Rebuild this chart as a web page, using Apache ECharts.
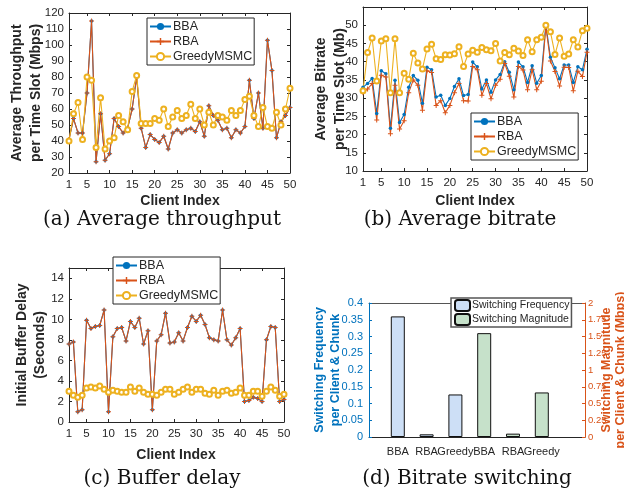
<!DOCTYPE html>
<html><head><meta charset="utf-8">
<script src="https://cdn.jsdelivr.net/npm/echarts@6/dist/echarts.min.js"></script>
<style>html,body{margin:0;padding:0;background:#fff}#c{width:624px;height:492px}</style>
</head><body><div id="c"></div>
<script>
// ---- data ----
var clientTicks = [1,5,10,15,20,25,30,35,40,45,50];
var aBBA = [41,54,45,45,70,115,27,57,28,32,54,49,45,48,60,80,48,36,44,41,39,43,35,45,47,45,47,48,46,52,43,62,56,53,47,48,42,47,45,49,78,54,70,48,103,84,42,52,56,61];
var aRBA = [41,54,45,45,70,115,27,57,28,32,54,49,45,48,60,80,48,36,44,41,39,43,35,45,47,45,47,48,46,52,43,62,56,53,47,48,42,47,45,49,78,54,70,48,103,84,42,52,56,61];
var aGreedy = [40,57,64,41,80,78,36,67,35,40,42,56,52,47,71,81,51,51,51,54,53,60,49,55,59,54,56,63,54,60,50,58,50,56,55,53,59,56,59,66,68,56,49,61,49,48,58,50,60,73];
var bBBA = [33,34,35.4,25.8,37.5,36.7,21.7,34.9,23.3,25.5,33,36.2,34.9,28.6,38.5,37.8,30.3,30.8,28,29.9,33.2,35.3,30.7,31,39.9,38.6,32.5,35,31.6,35,36.5,40,37.1,32.3,39.9,38.6,34.3,38.9,34.1,36.2,50.2,41.2,38.3,35.3,39.1,39.1,34.3,38.6,37.8,43.4];
var bRBA = [31.5,32.5,34,24,36.3,35.8,20.2,33.5,21.5,23.8,31.5,35,33.5,26.7,37.5,37,28,29.3,26,28,31.5,34,29.3,29.2,38.7,37.8,30.8,34,29.8,33.5,35.2,39.5,36,30.3,38.7,37.7,32.3,37.8,32.3,34.6,49.5,40.2,37.3,33.3,38.5,38.4,32,37.4,35.9,42.6];
var bGreedy = [32,42.5,46.5,34.7,45.7,46.3,31.5,46.3,31.5,36.8,35.2,42.3,39.6,38,43.5,44.8,40.8,40.6,41.9,41.8,42.2,44.1,38.7,42.1,43.1,42.6,43.9,43.3,43,45,40.2,42.5,41.9,43.7,42.9,41.7,46,42.7,46,46.7,50,48.2,42,46.5,41.5,42.1,46,44,48.5,49.2];
var cBBA = [7.6,7.8,1.0,1.2,9.9,9.1,9.3,9.4,10.9,1.0,8.3,9.1,9.2,7.9,9.8,9.2,10.1,7.6,8.9,1.2,7.9,8.5,10.6,7.7,7.8,8.7,7.9,9.2,10.3,9.8,10.4,9.5,8.2,8.0,7.9,10.9,8.0,7.5,8.2,9.1,2.0,2.1,2.4,2.3,2.0,8.0,9.3,9.2,2.0,2.2];
var cRBA = [7.6,7.8,1.0,1.2,9.9,9.1,9.3,9.4,10.9,1.0,8.3,9.1,9.2,7.9,9.8,9.2,10.1,7.6,8.9,1.2,7.9,8.5,10.6,7.7,7.8,8.7,7.9,9.2,10.3,9.8,10.4,9.5,8.2,8.0,7.9,10.9,8.0,7.5,8.2,9.1,2.0,2.1,2.4,2.3,2.0,8.0,9.3,9.2,2.0,2.2];
var cGreedy = [3.0,2.6,2.4,2.6,3.3,3.4,3.3,3.5,3.2,2.9,3.1,3.0,2.9,2.9,3.4,3.0,3.3,2.9,2.7,2.7,2.6,2.9,3.2,3.2,2.7,2.9,3.2,3.4,2.9,3.2,3.2,2.8,2.7,3.1,2.6,3.0,3.1,2.8,2.9,3.3,2.6,2.6,3.0,3.0,2.5,3.0,3.4,3.1,2.5,2.7];
var aTicks = [20,30,40,50,60,70,80,90,100,110,120];
var bTicks = [10,15,20,25,30,35,40,45,50];
var cTicks = [0,2,4,6,8,10,12,14];
var dCategories = ['BBA','RBA','Greedy','BBA','RBA','Greedy'];
var dFrequency = [0.36, 0.008, 0.127];
var dMagnitude = [1.55, 0.05, 0.665];
var dFreqTicks = [0,0.05,0.1,0.15,0.2,0.25,0.3,0.35,0.4];
var dMagTicks = [0,0.25,0.5,0.75,1,1.25,1.5,1.75,2];

// ---- styling ----
var SANS = 'Liberation Sans';
var DARK = '#262626';
var C_BBA = '#0072BD', C_RBA = '#D95319', C_GR = '#EDB120';
var PLUS = 'path://M4,0h2v4h4v2h-4v4h-2v-4h-4v-2h4z';

var grids = [
  {left:69, top:13, width:221, height:160},
  {left:363, top:7, width:224, height:164},
  {left:69, top:268, width:215, height:154},
  {left:369, top:303, width:216, height:134}
];
var yRanges = [[20,120,aTicks],[10,55,bTicks],[0,15,cTicks]];
var xAxes = [], yAxes = [], series = [];
function pts(arr){ return arr.map(function(v,i){ return [i+1, v]; }); }

[0,1,2].forEach(function(p){
  xAxes.push({type:'value', gridIndex:p, position:'bottom', min:1, max:50,
    axisLine:{onZero:false, lineStyle:{color:DARK}},
    axisTick:{inside:true, length:3, customValues:clientTicks, lineStyle:{color:DARK}},
    axisLabel:{customValues:clientTicks, color:DARK, fontFamily:SANS, fontSize:11.5, margin:6},
    splitLine:{show:false}});
  xAxes.push({type:'value', gridIndex:p, position:'top', min:1, max:50,
    axisLine:{onZero:false, lineStyle:{color:DARK}},
    axisTick:{inside:true, length:3, customValues:clientTicks, lineStyle:{color:DARK}},
    axisLabel:{show:false}, splitLine:{show:false}});
  var r = yRanges[p];
  yAxes.push({type:'value', gridIndex:p, position:'left', min:r[0], max:r[1],
    axisLine:{show:true, onZero:false, lineStyle:{color:DARK}},
    axisTick:{show:true, inside:true, length:3, customValues:r[2], lineStyle:{color:DARK}},
    axisLabel:{customValues:r[2], color:DARK, fontFamily:SANS, fontSize:11.5, margin:5},
    splitLine:{show:false}});
  yAxes.push({type:'value', gridIndex:p, position:'right', min:r[0], max:r[1],
    axisLine:{show:true, onZero:false, lineStyle:{color:DARK}},
    axisTick:{show:true, inside:true, length:3, customValues:r[2], lineStyle:{color:DARK}},
    axisLabel:{show:false}, splitLine:{show:false}});
});
// panel d axes (labels split over two bottom axes so adjacent names never get dropped)
function dLabel(v){ return dCategories[Math.round(v)-1] || ''; }
xAxes.push({type:'value', gridIndex:3, position:'bottom', min:0, max:7.5,
  axisLine:{onZero:false, lineStyle:{color:DARK}},
  axisTick:{show:false},
  axisLabel:{customValues:[1,3,5], color:DARK, fontFamily:SANS, fontSize:11, margin:9, formatter:dLabel},
  splitLine:{show:false}});
xAxes.push({type:'value', gridIndex:3, position:'top', min:0, max:7.5,
  axisLine:{onZero:false, lineStyle:{color:'#555'}}, axisTick:{show:false},
  axisLabel:{show:false}, splitLine:{show:false}});
xAxes.push({type:'value', gridIndex:3, position:'bottom', offset:0, min:0, max:7.5,
  axisLine:{show:false, onZero:false}, axisTick:{show:false},
  axisLabel:{customValues:[2,4,6], color:DARK, fontFamily:SANS, fontSize:11, margin:9, formatter:dLabel},
  splitLine:{show:false}});
yAxes.push({type:'value', gridIndex:3, position:'left', min:0, max:0.4,
  axisLine:{show:true, onZero:false, lineStyle:{color:C_BBA}},
  axisTick:{show:true, inside:true, length:3, customValues:dFreqTicks, lineStyle:{color:C_BBA}},
  axisLabel:{customValues:dFreqTicks, color:C_BBA, fontFamily:SANS, fontSize:11, margin:6},
  splitLine:{show:false}});
yAxes.push({type:'value', gridIndex:3, position:'right', min:0, max:2,
  axisLine:{show:true, onZero:false, lineStyle:{color:C_RBA}},
  axisTick:{show:true, inside:true, length:3, customValues:dMagTicks, lineStyle:{color:C_RBA}},
  axisLabel:{customValues:dMagTicks, color:C_RBA, fontFamily:SANS, fontSize:9.5, margin:3},
  splitLine:{show:false}});

var panelData = [[aBBA,aRBA,aGreedy],[bBBA,bRBA,bGreedy],[cBBA,cRBA,cGreedy]];
panelData.forEach(function(d,p){
  series.push({name:'BBA', type:'line', xAxisIndex:2*p, yAxisIndex:2*p, data:pts(d[0]),
    color:C_BBA, lineStyle:{width:1.1, color:C_BBA}, symbol:'circle', symbolSize:3.5,
    showAllSymbol:true, itemStyle:{color:C_BBA}, silent:true});
  series.push({name:'RBA', type:'line', xAxisIndex:2*p, yAxisIndex:2*p, data:pts(d[1]),
    color:C_RBA, lineStyle:{width:1.1, color:C_RBA}, symbol:PLUS, symbolSize:5,
    showAllSymbol:true, itemStyle:{color:C_RBA}, silent:true});
  series.push({name:'GreedyMSMC', type:'line', xAxisIndex:2*p, yAxisIndex:2*p, data:pts(d[2]),
    color:C_GR, lineStyle:{width:1.1, color:C_GR}, symbol:'emptyCircle', symbolSize:5,
    showAllSymbol:true, itemStyle:{color:C_GR, borderColor:C_GR, borderWidth:1}, silent:true});
});
series.push({name:'Switching Frequency', type:'bar', xAxisIndex:6, yAxisIndex:6,
  data:dFrequency.map(function(v,i){ return [i+1, v]; }), barWidth:14, barGap:'-100%',
  itemStyle:{color:'#cddff6', borderColor:'#111', borderWidth:1}, silent:true});
series.push({name:'Switching Magnitude', type:'bar', xAxisIndex:6, yAxisIndex:7,
  data:dMagnitude.map(function(v,i){ return [i+4, v]; }), barWidth:14, barGap:'-100%',
  itemStyle:{color:'#c6e1ca', borderColor:'#111', borderWidth:1}, silent:true});

function lineLegend(left, top){
  return {show:true, orient:'vertical', left:left, top:top, data:['BBA','RBA','GreedyMSMC'],
    backgroundColor:'#fff', borderColor:DARK, borderWidth:1, padding:[2,2,2,2], itemGap:2,
    itemWidth:21, itemHeight:9, selectedMode:false,
    textStyle:{fontFamily:SANS, fontSize:12.5, color:DARK, padding:[0,0,0,-3]}};
}
var legends = [lineLegend(147,18), lineLegend(471,113), lineLegend(113,257),
  {show:true, orient:'vertical', left:451, top:298, data:['Switching Frequency','Switching Magnitude'],
   backgroundColor:'#fff', borderColor:'#555', borderWidth:1.5, padding:[1,2,1,3], itemGap:1,
   itemWidth:15, itemHeight:11, selectedMode:false,
   textStyle:{fontFamily:SANS, fontSize:10.5, color:DARK, padding:[0,0,0,-3]}}];

function txt(x, y, s, opt){
  opt = opt || {};
  return {type:'text', x:x, y:y, rotation:opt.rot || 0, silent:true, z:100,
    style:{text:s, fontFamily:opt.family || SANS, fontSize:opt.size || 14,
      fontWeight:opt.weight || 'bold', fill:opt.color || DARK, align:'center', verticalAlign:'middle'}};
}
var R = Math.PI/2;
var SERIF = {family:'DejaVu Serif', size:20, weight:'normal', color:'#111'};
var graphics = [
  txt(17, 93, 'Average Throughput', {rot:R}),
  txt(36, 93, 'per Time Slot (Mbps)', {rot:R}),
  txt(321, 89, 'Average Bitrate', {rot:R}),
  txt(340, 89, 'per Time Slot (Mb)', {rot:R}),
  txt(22, 345, 'Initial Buffer Delay', {rot:R}),
  txt(40, 345, '(Seconds)', {rot:R}),
  txt(320, 370, 'Switching Frequency', {rot:R, color:C_BBA, size:12.5}),
  txt(336, 370, 'per Client & Chunk', {rot:R, color:C_BBA, size:12.5}),
  txt(607, 370, 'Switching Magnitude', {rot:R, color:C_RBA, size:12.5}),
  txt(621, 370, 'per Client & Chunk (Mbps)', {rot:R, color:C_RBA, size:12.5}),
  txt(180, 201, 'Client Index'),
  txt(475, 201, 'Client Index'),
  txt(176, 455, 'Client Index'),
  txt(162, 220, '(a) Average throughput', SERIF),
  txt(460, 220, '(b) Average bitrate', SERIF),
  txt(162, 479, '(c) Buffer delay', SERIF),
  txt(467, 479, '(d) Bitrate switching', SERIF)
];

var chart = echarts.init(document.getElementById('c'), null, {renderer:'canvas'});
chart.setOption({
  animation:false, backgroundColor:'#fff',
  grid:grids, xAxis:xAxes, yAxis:yAxes, series:series, legend:legends, graphic:graphics
});
</script></body></html>
